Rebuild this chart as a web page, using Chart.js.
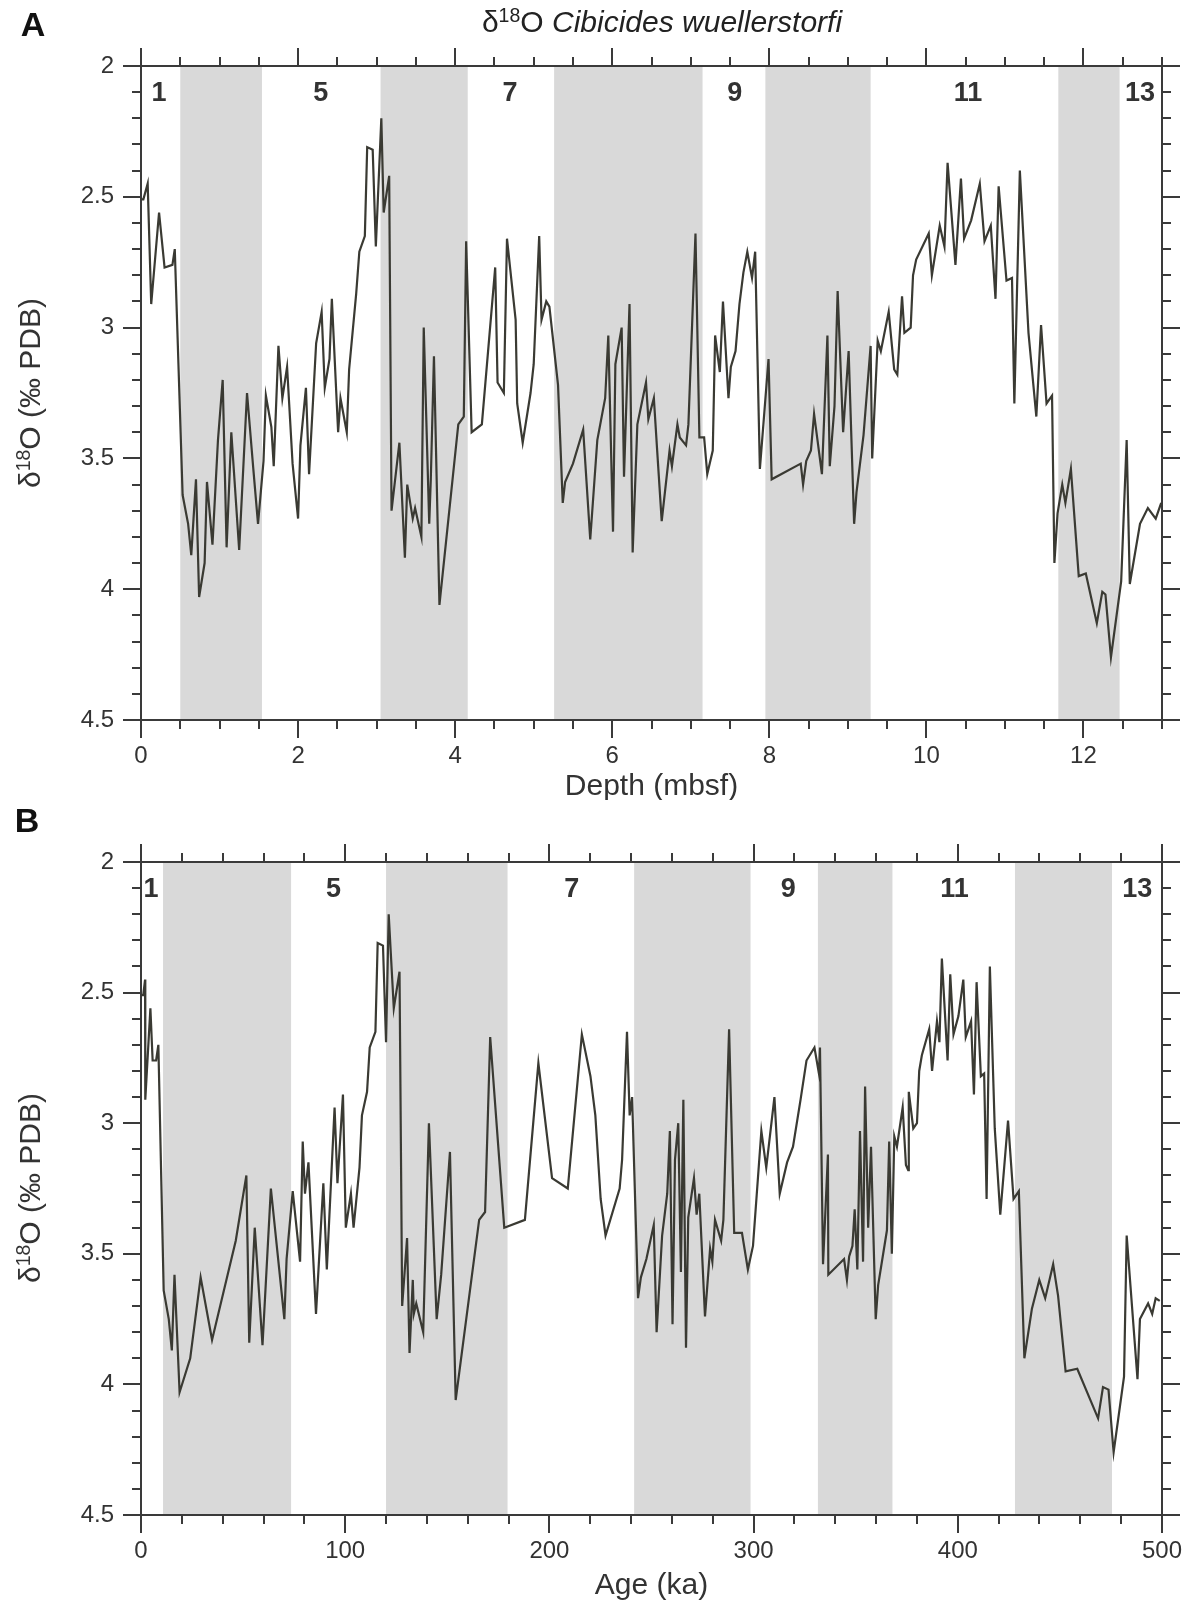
<!DOCTYPE html>
<html lang="en">
<head>
<meta charset="UTF-8">
<title>δ18O Cibicides wuellerstorfi</title>
<script src="https://cdn.jsdelivr.net/npm/chart.js"></script>
<style>
  body { margin: 0; width: 1188px; height: 1602px; position: relative; background: #fff;
         font-family: "Liberation Sans", Arial, sans-serif; color: #333; overflow: hidden; }
  canvas { position: absolute; left: 0; }
  #chartA { top: 0; }
  #chartB { top: 800px; }
  .letter { position: absolute; font-weight: bold; font-size: 34px; color: #111;
            transform: translate(-50%, -50%); }
  .title { position: absolute; left: 662px; top: 22px; transform: translate(-50%, -50%);
           font-size: 30px; white-space: nowrap; color: #222; }
  .ylab { position: absolute; font-size: 30px; white-space: nowrap; color: #333;
          transform: translate(-50%, -50%) rotate(-90deg); }
  sup { font-size: 65%; vertical-align: 0.5em; line-height: 0; }
</style>
</head>
<body>

<canvas id="chartA" width="1188" height="800"></canvas>
<canvas id="chartB" width="1188" height="802"></canvas>

<div class="letter" style="left:33px; top:24px;">A</div>
<div class="letter" style="left:27px; top:820px;">B</div>
<div class="title">δ<sup>18</sup>O <i>Cibicides wuellerstorfi</i></div>
<div class="ylab" style="left:30px; top:393px;">δ<sup>18</sup>O (‰ PDB)</div>
<div class="ylab" style="left:30px; top:1188px;">δ<sup>18</sup>O (‰ PDB)</div>

<script>
// ---- panel A: depth record ----
const depthA = [0, 0.03, 0.085, 0.13, 0.23, 0.30, 0.40, 0.43, 0.53, 0.60, 0.64, 0.70, 0.74, 0.81, 0.84, 0.91,
  0.98, 1.04, 1.09, 1.15, 1.25, 1.35, 1.43, 1.49, 1.56, 1.59, 1.66, 1.69, 1.75, 1.80, 1.86, 1.93, 2.00, 2.03,
  2.10, 2.14, 2.23, 2.30, 2.34, 2.40, 2.43, 2.51, 2.54, 2.62, 2.65, 2.74, 2.78, 2.85, 2.88, 2.95, 2.99, 3.06,
  3.09, 3.16, 3.19, 3.29, 3.36, 3.39, 3.46, 3.49, 3.57, 3.60, 3.67, 3.69, 3.73, 3.80, 4.04, 4.11, 4.14, 4.21,
  4.34, 4.51, 4.54, 4.62, 4.66, 4.77, 4.79, 4.86, 4.96, 5.00, 5.07, 5.10, 5.16, 5.20, 5.31, 5.37, 5.40, 5.50,
  5.63, 5.72, 5.81, 5.91, 5.95, 6.01, 6.04, 6.12, 6.15, 6.22, 6.26, 6.32, 6.43, 6.46, 6.53, 6.57, 6.63, 6.73,
  6.76, 6.83, 6.86, 6.94, 6.97, 7.06, 7.11, 7.17, 7.21, 7.28, 7.31, 7.37, 7.41, 7.48, 7.51, 7.57, 7.62, 7.67,
  7.72, 7.78, 7.82, 7.88, 7.99, 8.03, 8.40, 8.43, 8.47, 8.53, 8.57, 8.67, 8.74, 8.77, 8.83, 8.87, 8.94, 9.01,
  9.08, 9.11, 9.20, 9.29, 9.31, 9.38, 9.42, 9.52, 9.59, 9.63, 9.69, 9.72, 9.80, 9.83, 9.87, 10.03, 10.07,
  10.17, 10.23, 10.27, 10.37, 10.44, 10.48, 10.57, 10.68, 10.74, 10.82, 10.88, 10.92, 11.02, 11.09, 11.12,
  11.19, 11.30, 11.40, 11.46, 11.53, 11.60, 11.63, 11.67, 11.73, 11.77, 11.84, 11.94, 12.03, 12.17, 12.24,
  12.28, 12.35, 12.48, 12.55, 12.59, 12.72, 12.82, 12.92, 12.99];
const d18oA = [2.51, 2.51, 2.45, 2.91, 2.56, 2.77, 2.76, 2.70, 3.64, 3.75, 3.87, 3.58, 4.03, 3.90, 3.59, 3.83,
  3.43, 3.20, 3.84, 3.40, 3.85, 3.25, 3.54, 3.75, 3.51, 3.26, 3.38, 3.53, 3.07, 3.27, 3.15, 3.52, 3.73, 3.45,
  3.23, 3.56, 3.06, 2.94, 3.23, 3.12, 2.89, 3.40, 3.27, 3.40, 3.16, 2.87, 2.71, 2.65, 2.31, 2.32, 2.69, 2.20,
  2.56, 2.42, 3.70, 3.44, 3.88, 3.60, 3.73, 3.69, 3.80, 3.00, 3.75, 3.58, 3.11, 4.06, 3.37, 3.34, 2.67, 3.40,
  3.37, 2.77, 3.21, 3.25, 2.66, 2.97, 3.29, 3.44, 3.25, 3.14, 2.65, 2.97, 2.90, 2.92, 3.22, 3.67, 3.59, 3.52,
  3.39, 3.81, 3.43, 3.27, 3.03, 3.78, 3.14, 3.00, 3.57, 2.91, 3.86, 3.37, 3.21, 3.35, 3.27, 3.46, 3.74, 3.47,
  3.53, 3.37, 3.42, 3.45, 3.37, 2.64, 3.42, 3.42, 3.56, 3.47, 3.03, 3.17, 2.90, 3.27, 3.15, 3.09, 2.91, 2.79,
  2.71, 2.81, 2.71, 3.54, 3.12, 3.58, 3.52, 3.60, 3.51, 3.47, 3.33, 3.56, 3.03, 3.53, 3.30, 2.86, 3.40, 3.09,
  3.75, 3.63, 3.41, 3.07, 3.50, 3.05, 3.09, 2.94, 3.16, 3.18, 2.88, 3.02, 3.00, 2.80, 2.74, 2.64, 2.80,
  2.61, 2.69, 2.37, 2.76, 2.43, 2.66, 2.59, 2.45, 2.67, 2.61, 2.89, 2.46, 2.82, 2.81, 3.29,
  2.40, 3.02, 3.34, 2.99, 3.29, 3.26, 3.90, 3.71, 3.60, 3.67, 3.54, 3.95, 3.94, 4.13, 4.01,
  4.02, 4.26, 3.97, 3.43, 3.98, 3.75, 3.69, 3.73, 3.67];

// ---- panel B: age model ----
const ageB = [0, 1.1, 2.0, 2.1, 4.6, 5.7, 7.4, 8.5, 11.1, 13.6, 15.1, 16.4, 18.9, 24.1, 29.2, 34.8, 46.4, 51.6,
  53.0, 55.7, 59.5, 63.6, 70.2, 71.3, 74.3, 77.9, 79.2, 80.3, 82.0, 85.7, 89.3, 91.0, 94.8, 96.2, 98.9, 100.3,
  102.8, 104.1, 107.0, 108.2, 110.7, 112.0, 114.8, 115.9, 118.5, 120.0, 121.3, 123.8, 126.6, 127.9, 130.3,
  131.5, 133.1, 133.6, 134.8, 138.2, 141.0, 144.8, 147.0, 151.3, 154.1, 165.6, 168.5, 171.0, 177.9, 188.0,
  194.6, 201.3, 209.0, 215.9, 220.1, 222.5, 225.1, 227.5, 234.4, 235.6, 238.0, 239.3, 240.5, 243.4, 244.8,
  247.5, 251.1, 252.5, 255.2, 257.7, 259.0, 260.3, 261.5, 263.1, 264.4, 265.6, 266.9, 268.0, 270.8, 272.1,
  273.4, 276.2, 278.7, 279.8, 281.1, 284.1, 285.2, 288.0, 290.5, 294.3, 297.2, 299.7, 303.8, 306.2, 310.2,
  312.8, 316.4, 319.3, 323.0, 325.9, 329.8, 332.0, 332.5, 334.0, 336.4, 336.6, 344.3, 345.7, 346.8, 348.4,
  349.5, 350.8, 352.1, 353.6, 354.6, 356.1, 357.5, 359.8, 361.0, 365.3, 366.4, 367.7, 368.9, 370.2, 373.0,
  374.6, 375.7, 376.0, 378.2, 380.0, 381.1, 382.4, 386.0, 387.4, 389.8, 391.0, 392.2, 395.0, 396.3, 397.9,
  400.3, 402.7, 403.9, 406.5, 407.9, 409.2, 411.3, 412.9, 414.1, 415.7, 418.1, 420.8, 424.6, 427.3, 429.9,
  432.6, 436.3, 439.9, 442.8, 446.7, 449.1, 452.8, 458.5, 468.7, 471.1, 473.8, 476.3, 481.4, 482.7, 488.0,
  489.2, 493.2, 495.2, 496.9, 498.9];
const d18oB = [2.51, 2.51, 2.45, 2.91, 2.56, 2.76, 2.76, 2.70, 3.64, 3.75, 3.87, 3.58, 4.03, 3.90, 3.59, 3.83,
  3.45, 3.20, 3.84, 3.40, 3.85, 3.25, 3.75, 3.52, 3.26, 3.53, 3.07, 3.27, 3.15, 3.73, 3.23, 3.56, 2.94, 3.23,
  2.89, 3.40, 3.27, 3.40, 3.17, 2.97, 2.88, 2.71, 2.65, 2.31, 2.32, 2.69, 2.20, 2.56, 2.42, 3.70, 3.44,
  3.88, 3.60, 3.73, 3.69, 3.80, 3.00, 3.75, 3.58, 3.11, 4.06, 3.37, 3.34, 2.67, 3.40, 3.37,
  2.77, 3.21, 3.25, 2.66, 2.82, 2.97, 3.29, 3.43, 3.25, 3.14, 2.65, 2.97, 2.90, 3.67, 3.59,
  3.52, 3.39, 3.80, 3.43, 3.27, 3.03, 3.77, 3.14, 3.00, 3.57, 2.91, 3.86, 3.36, 3.21, 3.35,
  3.27, 3.74, 3.48, 3.53, 3.37, 3.45, 3.37, 2.64, 3.42, 3.42, 3.56, 3.47, 3.03, 3.17, 2.90,
  3.27, 3.15, 3.09, 2.91, 2.76, 2.71, 2.81, 2.71, 3.54, 3.12, 3.58, 3.52, 3.60, 3.51, 3.47,
  3.33, 3.56, 3.03, 3.53, 2.86, 3.40, 3.09, 3.75, 3.62, 3.41, 3.07, 3.50, 3.05, 3.09, 2.94,
  3.16, 3.18, 2.88, 3.02, 3.00, 2.80, 2.74, 2.64, 2.80, 2.61, 2.69, 2.37, 2.76, 2.43, 2.66,
  2.59, 2.45, 2.67, 2.61, 2.89, 2.46, 2.82, 2.81, 3.29, 2.40, 3.02, 3.35, 2.99, 3.29, 3.26,
  3.90, 3.71, 3.60, 3.67, 3.54, 3.66, 3.95, 3.94, 4.13, 4.01, 4.02, 4.26, 3.97, 3.43, 3.98,
  3.75, 3.69, 3.73, 3.67, 3.68];

// marine isotope stages (labels) and glacial bands
const stageNames = ['1', '5', '7', '9', '11', '13'];
const stageDepthA = [0.23, 2.29, 4.70, 7.56, 10.53, 12.72];
const stageAgeB = [4.9, 94.3, 211, 317, 398.4, 487.9];
const glacialStartA = [0.50, 3.05, 5.26, 7.95, 11.68];
const glacialEndA = [1.54, 4.16, 7.15, 9.29, 12.46];
const glacialStartB = [10.8, 120, 241.5, 331.5, 428];
const glacialEndB = [73.5, 179.5, 298.5, 368, 475.5];

const axisColor = '#3a3a3a';
const lineColor = '#3a3a33';
const bandColor = '#d9d9d9';
const fontFamily = '"Liberation Sans", Arial, sans-serif';

// grey bands behind everything
const bandsPlugin = {
  id: 'bands',
  beforeDraw(chart, args, opts) {
    const {ctx, chartArea: a, scales: {x}} = chart;
    ctx.save();
    ctx.fillStyle = bandColor;
    opts.starts.forEach((s, i) => {
      const x0 = x.getPixelForValue(s);
      const x1 = x.getPixelForValue(opts.ends[i]);
      ctx.fillRect(x0, a.top, x1 - x0, a.bottom - a.top);
    });
    ctx.restore();
  }
};

// stage numbers at top of the plot
const stagePlugin = {
  id: 'stages',
  afterDatasetsDraw(chart, args, opts) {
    const {ctx, scales: {x, y}} = chart;
    ctx.save();
    ctx.fillStyle = '#333';
    ctx.font = 'bold 27px ' + fontFamily;
    ctx.textAlign = 'center';
    ctx.textBaseline = 'middle';
    opts.pos.forEach((p, i) => {
      ctx.fillText(stageNames[i], x.getPixelForValue(p), y.getPixelForValue(2.107));
    });
    ctx.restore();
  }
};

// outward tick marks on all four sides, long ones at labelled values
const ticksPlugin = {
  id: 'outTicks',
  afterDraw(chart, args, opts) {
    const {ctx, chartArea: a, scales} = chart;
    ctx.save();
    ctx.strokeStyle = axisColor;
    ctx.lineWidth = 2;
    ctx.beginPath();
    ['x', 'x2', 'y', 'y2'].forEach(id => {
      const s = scales[id];
      const every = id[0] === 'x' ? opts.xMajor : opts.yMajor;
      s.ticks.forEach(t => {
        const r = t.value / every;
        const len = Math.abs(r - Math.round(r)) < 1e-6 ? 18 : 9;
        const p = Math.round(s.getPixelForValue(t.value));
        if (id === 'x') { ctx.moveTo(p, a.bottom); ctx.lineTo(p, a.bottom + len); }
        if (id === 'x2') { ctx.moveTo(p, a.top); ctx.lineTo(p, a.top - len); }
        if (id === 'y') { ctx.moveTo(a.left, p); ctx.lineTo(a.left - len, p); }
        if (id === 'y2') { ctx.moveTo(a.right, p); ctx.lineTo(a.right + len, p); }
      });
    });
    ctx.stroke();
    ctx.restore();
  }
};

function makePanel(id, xs, ys, cfg) {
  const tickFont = {family: fontFamily, size: 24};
  const fixW = w => s => { s.width = w; };
  // fixed height, and no extra room reserved for the end labels
  const fixH = h => s => { s.height = h; s.paddingLeft = 0; s.paddingRight = 0; };
  const isMajor = (v, every) => Math.abs(v / every - Math.round(v / every)) < 1e-6;
  const border = {display: true, color: axisColor, width: 2};
  const yBase = {type: 'linear', reverse: true, min: 2, max: 4.5, border,
    grid: {display: false, drawTicks: false}};
  const xBase = {type: 'linear', min: cfg.xMin, max: cfg.xMax, border,
    grid: {display: false, drawTicks: false}};

  return new Chart(document.getElementById(id), {
    type: 'line',
    data: {
      datasets: [{
        data: xs.map((x, i) => ({x: x, y: ys[i]})),
        borderColor: lineColor,
        borderWidth: 2.2,
        pointRadius: 0,
        tension: 0,
        fill: false
      }]
    },
    options: {
      responsive: false,
      animation: false,
      devicePixelRatio: 1,
      layout: {padding: 0, autoPadding: false},
      plugins: {
        legend: {display: false},
        tooltip: {enabled: false},
        bands: {starts: cfg.bandStarts, ends: cfg.bandEnds},
        stages: {pos: cfg.stagePos},
        outTicks: {xMajor: cfg.xMajor, yMajor: 0.5}
      },
      scales: {
        x: Object.assign({}, xBase, {
          position: 'bottom',
          afterFit: fixH(cfg.bottomH),
          ticks: {stepSize: cfg.xStep, autoSkip: false, maxRotation: 0, padding: 22, color: '#333', font: tickFont,
            callback: v => isMajor(v, cfg.xMajor) ? String(Math.round(v)) : ''},
          title: {display: true, text: cfg.xTitle, color: '#333',
            font: {family: fontFamily, size: 30, lineHeight: 1},
            padding: {top: 0, bottom: cfg.titlePad}}
        }),
        x2: Object.assign({}, xBase, {
          position: 'top',
          afterFit: fixH(cfg.topH),
          ticks: {stepSize: cfg.xStep, autoSkip: false, display: false}
        }),
        y: Object.assign({}, yBase, {
          position: 'left',
          afterFit: fixW(141),
          ticks: {stepSize: 0.1, autoSkip: false, padding: 27, color: '#333', font: tickFont,
            callback: v => isMajor(v, 0.5) ? String(Math.round(v * 10) / 10) : ''}
        }),
        y2: Object.assign({}, yBase, {
          position: 'right',
          afterFit: fixW(26),
          ticks: {stepSize: 0.1, autoSkip: false, display: false}
        })
      }
    },
    plugins: [bandsPlugin, stagePlugin, ticksPlugin]
  });
}

makePanel('chartA', depthA, d18oA, {
  xMin: 0, xMax: 13, xStep: 0.5, xMajor: 2, xTitle: 'Depth (mbsf)',
  topH: 66, bottomH: 80, titlePad: -2,
  bandStarts: glacialStartA, bandEnds: glacialEndA, stagePos: stageDepthA
});

makePanel('chartB', ageB, d18oB, {
  xMin: 0, xMax: 500, xStep: 20, xMajor: 100, xTitle: 'Age (ka)',
  topH: 62, bottomH: 87, titlePad: 1,
  bandStarts: glacialStartB, bandEnds: glacialEndB, stagePos: stageAgeB
});
</script>

</body>
</html>
